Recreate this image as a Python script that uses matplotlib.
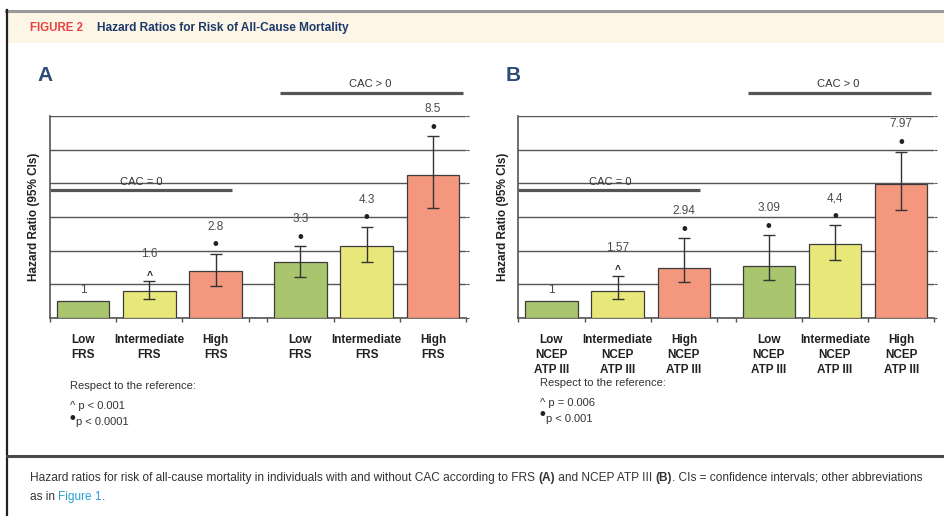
import matplotlib
matplotlib.use("Agg")
import matplotlib.pyplot as plt
from matplotlib.patches import Rectangle
from matplotlib.lines import Line2D

plt.rcParams["font.family"] = ["Liberation Sans", "DejaVu Sans"]

# ---- data ----
bar_colors = ["#a9c56d", "#e8e87a", "#f4977f"] * 2

frs_hr = [1, 1.6, 2.8, 3.3, 4.3, 8.5]
frs_text = ["1", "1.6", "2.8", "3.3", "4.3", "8.5"]
frs_ci_low = [None, 1.10, 1.88, 2.45, 3.33, 6.53]
frs_ci_high = [None, 2.16, 3.82, 4.25, 5.41, 10.8]
frs_marks = ["", "^", "•", "•", "•", "•"]
frs_xlabels = ["Low\nFRS", "Intermediate\nFRS", "High\nFRS"] * 2
frs_notes = ["^ p < 0.001", "p < 0.0001"]

ncep_hr = [1, 1.57, 2.94, 3.09, 4.4, 7.97]
ncep_text = ["1", "1.57", "2.94", "3.09", "4,4", "7.97"]
ncep_ci_low = [None, 1.10, 2.12, 2.22, 3.45, 6.39]
ncep_ci_high = [None, 2.51, 4.73, 4.92, 5.51, 9.90]
ncep_marks = ["", "^", "•", "•", "•", "•"]
ncep_xlabels = ["Low\nNCEP\nATP III", "Intermediate\nNCEP\nATP III",
                "High\nNCEP\nATP III"] * 2
ncep_notes = ["^ p = 0.006", "p < 0.001"]

# layout of the bar slots (two groups with a small gap)
positions = [0, 1, 2, 3.28, 4.28, 5.28]
boundaries = [-0.5, 0.5, 1.5, 2.5, 2.78, 3.78, 4.78, 5.78]

W, H = 944, 516
fig = plt.figure(figsize=(W / 100, H / 100), dpi=100)
fig.patch.set_facecolor("white")


def fx(px):
    return px / W


def fy(py):
    return 1 - py / H


# frame, header band and separator
fig.add_artist(Rectangle((fx(8), fy(43)), 1 - fx(8), fy(11) - fy(43),
                         transform=fig.transFigure, facecolor="#fdf5e6",
                         edgecolor="none", zorder=0))
fig.add_artist(Line2D([fx(6), 1], [fy(11), fy(11)], transform=fig.transFigure,
                      color="#9a9a9a", lw=2.2))
fig.add_artist(Line2D([fx(7), fx(7)], [0, fy(10)], transform=fig.transFigure,
                      color="#222222", lw=1.6))
fig.add_artist(Line2D([fx(7), 1], [fy(456), fy(456)], transform=fig.transFigure,
                      color="#4a4a4a", lw=2.2))

fig.text(fx(30), fy(28), "FIGURE 2", color="#e8413f", fontsize=8.3,
         fontweight="bold", va="center")
fig.text(fx(97), fy(28), "Hazard Ratios for Risk of All-Cause Mortality",
         color="#1e3a6a", fontsize=8.6, fontweight="bold", va="center")


def draw_panel(ax, hr, text, ci_low, ci_high, marks, xlabels, letter):
    ax.bar(positions, hr, width=0.79, color=bar_colors, edgecolor="#3c3c3c",
           linewidth=0.9, zorder=3)
    for x, v, lo, hi, lab, mk in zip(positions, hr, ci_low, ci_high, text, marks):
        top = v
        if lo is not None:
            ax.errorbar([x], [v], yerr=[[v - lo], [hi - v]], fmt="none",
                        ecolor="#333333", elinewidth=1.0, capsize=4.5,
                        capthick=1.0, zorder=4)
            top = hi
        if mk:
            ax.annotate(mk, (x, top), xytext=(0, 6.5 if mk == "•" else 4),
                        textcoords="offset points", ha="center", va="center",
                        fontsize=12 if mk == "•" else 7.5, color="#222222",
                        fontweight="bold")
            off = 19.5
        else:
            off = 8
        ax.annotate(lab, (x, top), xytext=(0, off), textcoords="offset points",
                    ha="center", va="center", fontsize=8.5, color="#4a4a4a")

    ax.set_xlim(boundaries[0], boundaries[-1])
    ax.set_ylim(0, 12.02)
    ax.set_yticks(range(0, 13, 2))
    ax.yaxis.grid(True, color="#555555", lw=1.0, zorder=1)
    ax.set_axisbelow(True)
    ax.tick_params(axis="y", left=False, labelleft=False, right=True,
                   direction="out", length=2.5, color="#555555")
    ax.set_xticks(boundaries)
    ax.set_xticklabels([])
    ax.tick_params(axis="x", which="major", direction="out", length=3,
                   width=1, color="#555555")
    ax.set_xticks(positions, labels=xlabels, minor=True)
    ax.tick_params(axis="x", which="minor", length=0, pad=12, labelsize=8.5,
                   labelcolor="#222222")
    for t in ax.get_xticklabels(minor=True):
        t.set_fontweight("bold")
        t.set_linespacing(1.3)
    for s in ("top", "right"):
        ax.spines[s].set_visible(False)
    for s in ("left", "bottom"):
        ax.spines[s].set_color("#555555")
        ax.spines[s].set_linewidth(1.2)
    ax.set_ylabel("Hazard Ratio (95% CIs)", fontsize=8.5, fontweight="bold",
                  labelpad=7, color="#222222")

    # CAC group markers
    ax.plot([2.97, 5.73], [13.37, 13.37], color="#555555", lw=2.3,
            clip_on=False, solid_capstyle="butt")
    ax.text(4.33, 13.93, "CAC > 0", ha="center", va="center", fontsize=8,
            color="#333333")
    ax.plot([-0.5, 2.25], [7.61, 7.61], color="#555555", lw=2.3,
            clip_on=False, solid_capstyle="butt", zorder=5)
    ax.text(0.885, 8.07, "CAC = 0", ha="center", va="center", fontsize=8,
            color="#333333", zorder=6)
    ax.text(-0.03, 1.2, letter, transform=ax.transAxes, fontsize=15,
            fontweight="bold", color="#2d4b78", ha="left", va="center")


ax_a = fig.add_axes([fx(50), fy(317.7), fx(416), 201.7 / H])
ax_b = fig.add_axes([fx(518.3), fy(317.7), fx(416), 201.7 / H])
draw_panel(ax_a, frs_hr, frs_text, frs_ci_low, frs_ci_high, frs_marks,
           frs_xlabels, "A")
draw_panel(ax_b, ncep_hr, ncep_text, ncep_ci_low, ncep_ci_high, ncep_marks,
           ncep_xlabels, "B")


def footnote(x, y0, notes):
    fig.text(fx(x), fy(y0), "Respect to the reference:", fontsize=8,
             color="#333333", va="center")
    fig.text(fx(x), fy(y0 + 20), notes[0], fontsize=8, color="#333333",
             va="center")
    fig.text(fx(x), fy(y0 + 32), "•", fontsize=12, color="#222222",
             va="center", fontweight="bold")
    fig.text(fx(x + 6), fy(y0 + 36), notes[1], fontsize=8, color="#333333",
             va="center")


footnote(70, 386, frs_notes)
footnote(540, 383, ncep_notes)

# caption with mixed styling
renderer = fig.canvas.get_renderer()


def draw_runs(x, y, runs):
    cur = fx(x)
    for s, kw in runs:
        t = fig.text(cur, fy(y), s, fontsize=8.6, va="center", **kw)
        bb = t.get_window_extent(renderer=renderer)
        cur = bb.x1 / fig.bbox.width


plain = {"color": "#333333"}
bold = {"color": "#333333", "fontweight": "bold"}
draw_runs(30, 478, [
    ("Hazard ratios for risk of all-cause mortality in individuals with and "
     "without CAC according to FRS ", plain),
    ("(A)", bold),
    (" and NCEP ATP III ", plain),
    ("(B)", bold),
    (". CIs = confidence intervals; other abbreviations", plain),
])
draw_runs(30, 497, [
    ("as in ", plain),
    ("Figure 1", {"color": "#2a9fd0"}),
    (".", plain),
])

fig.savefig("out.png", dpi=100)
